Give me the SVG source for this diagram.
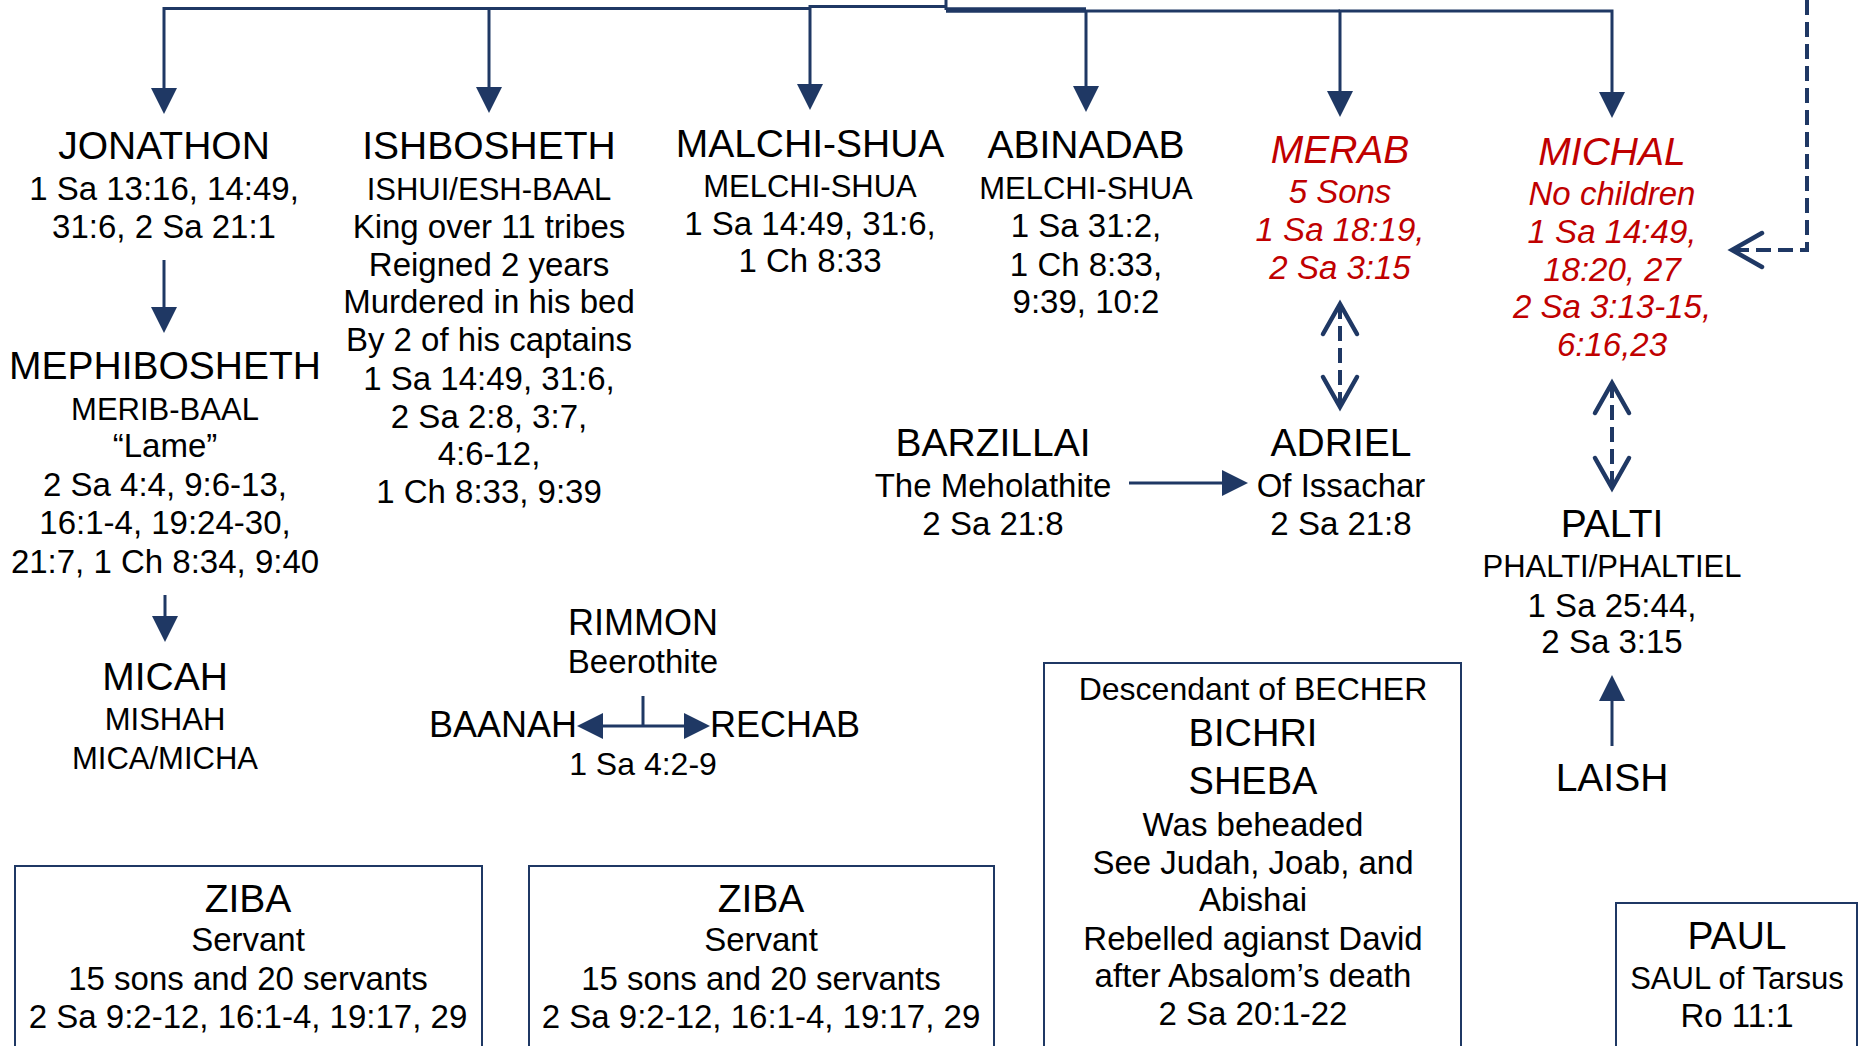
<svg xmlns="http://www.w3.org/2000/svg" width="1866" height="1046" viewBox="0 0 1866 1046">
<style>
text{font-family:"Liberation Sans",Arial,sans-serif;fill:#000;text-anchor:middle}
.nm{font-size:39px}
.sb{font-size:33px}
.al{font-size:31px}
.md{font-size:36px}
.rd{fill:#C00000;font-style:italic}
.ln{fill:none;stroke:#1F3864;stroke-width:3}
.ds{fill:none;stroke:#1F3864;stroke-width:4;stroke-dasharray:15 7}
.bx{fill:none;stroke:#1F3864;stroke-width:2}
</style>
<defs>
<marker id="tri" markerUnits="userSpaceOnUse" markerWidth="26" markerHeight="26" viewBox="0 0 26 26" refX="20" refY="13" orient="auto-start-reverse">
<path d="M0,0 L26,13 L0,26 Z" fill="#1F3864"/>
</marker>
<marker id="chev" markerUnits="userSpaceOnUse" markerWidth="40" markerHeight="44" viewBox="-4 -5 40 44" refX="30" refY="17" orient="auto-start-reverse" overflow="visible">
<path d="M0,0 L30,17 L0,34" fill="none" stroke="#1F3864" stroke-width="4.5" stroke-dasharray="none" stroke-linecap="round" stroke-linejoin="miter"/>
</marker>
</defs>
<rect width="1866" height="1046" fill="#fff"/>

<g id="connectors">
<path class="ln" d="M164,107 V8.5 H810"/>
<path class="ln" d="M810,104 V6.5 H946"/>
<path class="ln" d="M946,0 V10"/>
<path class="ln" style="stroke-width:5.5" d="M946,10 H1086"/>
<path class="ln" d="M1086,106 V11 H1340"/>
<path class="ln" d="M1340,111 V11 H1612 V112"/>
<path class="ln" marker-end="url(#tri)" d="M489,8.5 V107"/>
<path class="ln" marker-end="url(#tri)" d="M164,107 V108"/>
<path class="ln" marker-end="url(#tri)" d="M810,103 V104"/>
<path class="ln" marker-end="url(#tri)" d="M1086,105 V106"/>
<path class="ln" marker-end="url(#tri)" d="M1340,110 V111"/>
<path class="ln" marker-end="url(#tri)" d="M1612,111 V112"/>
<path class="ln" marker-end="url(#tri)" d="M164,260 V327"/>
<path class="ln" marker-end="url(#tri)" d="M165,595 V636"/>
<path class="ln" marker-end="url(#tri)" d="M1612,746 V681"/>
<path class="ln" marker-end="url(#tri)" d="M1129,483 H1242"/>
<path class="ln" marker-start="url(#tri)" marker-end="url(#tri)" d="M583,726 H704"/>
<path class="ln" d="M643,696 V726"/>
<path class="ds" marker-start="url(#chev)" marker-end="url(#chev)" d="M1340,304 V407"/>
<path class="ds" marker-start="url(#chev)" marker-end="url(#chev)" d="M1612,383 V488"/>
<path class="ds" marker-end="url(#chev)" d="M1807,0 V250 H1732"/>
</g>

<g id="jonathon">
<text class="nm" x="164" y="159">JONATHON</text>
<text class="sb" x="164" y="200">1 Sa 13:16, 14:49,</text>
<text class="sb" x="164" y="238">31:6, 2 Sa 21:1</text>
</g>
<g id="mephibosheth">
<text class="nm" x="165" y="379">MEPHIBOSHETH</text>
<text class="al" x="165" y="420">MERIB-BAAL</text>
<text class="sb" x="165" y="457">“Lame”</text>
<text class="sb" x="165" y="496">2 Sa 4:4, 9:6-13,</text>
<text class="sb" x="165" y="534">16:1-4, 19:24-30,</text>
<text class="sb" x="165" y="573">21:7, 1 Ch 8:34, 9:40</text>
</g>
<g id="micah">
<text class="nm" x="165" y="690">MICAH</text>
<text class="al" x="165" y="730">MISHAH</text>
<text class="al" x="165" y="769">MICA/MICHA</text>
</g>
<g id="ishbosheth">
<text class="nm" x="489" y="159">ISHBOSHETH</text>
<text class="al" x="489" y="200">ISHUI/ESH-BAAL</text>
<text class="sb" x="489" y="238">King over 11 tribes</text>
<text class="sb" x="489" y="276">Reigned 2 years</text>
<text class="sb" x="489" y="313">Murdered in his bed</text>
<text class="sb" x="489" y="351">By 2 of his captains</text>
<text class="sb" x="489" y="390">1 Sa 14:49, 31:6,</text>
<text class="sb" x="489" y="428">2 Sa 2:8, 3:7,</text>
<text class="sb" x="489" y="465">4:6-12,</text>
<text class="sb" x="489" y="503">1 Ch 8:33, 9:39</text>
</g>
<g id="malchishua">
<text class="nm" x="810" y="157">MALCHI-SHUA</text>
<text class="al" x="810" y="197">MELCHI-SHUA</text>
<text class="sb" x="810" y="235">1 Sa 14:49, 31:6,</text>
<text class="sb" x="810" y="272">1 Ch 8:33</text>
</g>
<g id="abinadab">
<text class="nm" x="1086" y="158">ABINADAB</text>
<text class="al" x="1086" y="199">MELCHI-SHUA</text>
<text class="sb" x="1086" y="237">1 Sa 31:2,</text>
<text class="sb" x="1086" y="276">1 Ch 8:33,</text>
<text class="sb" x="1086" y="313">9:39, 10:2</text>
</g>
<g id="merab">
<text class="nm rd" x="1340" y="163">MERAB</text>
<text class="sb rd" x="1340" y="203">5 Sons</text>
<text class="sb rd" x="1340" y="241">1 Sa 18:19,</text>
<text class="sb rd" x="1340" y="279">2 Sa 3:15</text>
</g>
<g id="michal">
<text class="nm rd" x="1612" y="165">MICHAL</text>
<text class="sb rd" x="1612" y="205">No children</text>
<text class="sb rd" x="1612" y="243">1 Sa 14:49,</text>
<text class="sb rd" x="1612" y="281">18:20, 27</text>
<text class="sb rd" x="1612" y="318">2 Sa 3:13-15,</text>
<text class="sb rd" x="1612" y="356">6:16,23</text>
</g>
<g id="barzillai">
<text class="nm" x="993" y="456">BARZILLAI</text>
<text class="sb" x="993" y="497">The Meholathite</text>
<text class="sb" x="993" y="535">2 Sa 21:8</text>
</g>
<g id="adriel">
<text class="nm" x="1341" y="456">ADRIEL</text>
<text class="sb" x="1341" y="497">Of Issachar</text>
<text class="sb" x="1341" y="535">2 Sa 21:8</text>
</g>
<g id="palti">
<text class="nm" x="1612" y="537">PALTI</text>
<text class="al" x="1612" y="577">PHALTI/PHALTIEL</text>
<text class="sb" x="1612" y="617">1 Sa 25:44,</text>
<text class="sb" x="1612" y="653">2 Sa 3:15</text>
</g>
<g id="laish">
<text class="nm" x="1612" y="791">LAISH</text>
</g>
<g id="rimmon">
<text class="md" x="643" y="635">RIMMON</text>
<text class="sb" x="643" y="673">Beerothite</text>
</g>
<g id="baanah">
<text class="md" x="577" y="737" style="text-anchor:end">BAANAH</text>
</g>
<g id="rechab">
<text class="md" x="710" y="737" style="text-anchor:start">RECHAB</text>
</g>
<g id="ref-baanah-rechab">
<text x="643" y="775" style="font-size:32px">1 Sa 4:2-9</text>
</g>
<g id="ziba1">
<rect class="bx" x="15" y="866" width="467" height="200"/>
<text class="nm" x="248" y="912">ZIBA</text>
<text class="sb" x="248" y="951">Servant</text>
<text class="sb" x="248" y="990">15 sons and 20 servants</text>
<text class="sb" x="248" y="1028">2 Sa 9:2-12, 16:1-4, 19:17, 29</text>
</g>
<g id="ziba2">
<rect class="bx" x="529" y="866" width="465" height="200"/>
<text class="nm" x="761" y="912">ZIBA</text>
<text class="sb" x="761" y="951">Servant</text>
<text class="sb" x="761" y="990">15 sons and 20 servants</text>
<text class="sb" x="761" y="1028">2 Sa 9:2-12, 16:1-4, 19:17, 29</text>
</g>
<g id="sheba">
<rect class="bx" x="1044" y="663" width="417" height="400"/>
<text x="1253" y="700" style="font-size:32px">Descendant of BECHER</text>
<text x="1253" y="746" style="font-size:38px">BICHRI</text>
<text x="1253" y="794" style="font-size:38px">SHEBA</text>
<text class="sb" x="1253" y="836">Was beheaded</text>
<text class="sb" x="1253" y="874">See Judah, Joab, and</text>
<text class="sb" x="1253" y="911">Abishai</text>
<text class="sb" x="1253" y="950">Rebelled agianst David</text>
<text class="sb" x="1253" y="987">after Absalom’s death</text>
<text class="sb" x="1253" y="1025">2 Sa 20:1-22</text>
</g>
<g id="paul">
<rect class="bx" x="1616" y="903" width="241" height="160"/>
<text class="nm" x="1737" y="949">PAUL</text>
<text class="al" x="1737" y="989">SAUL of Tarsus</text>
<text class="sb" x="1737" y="1027">Ro 11:1</text>
</g>
</svg>
